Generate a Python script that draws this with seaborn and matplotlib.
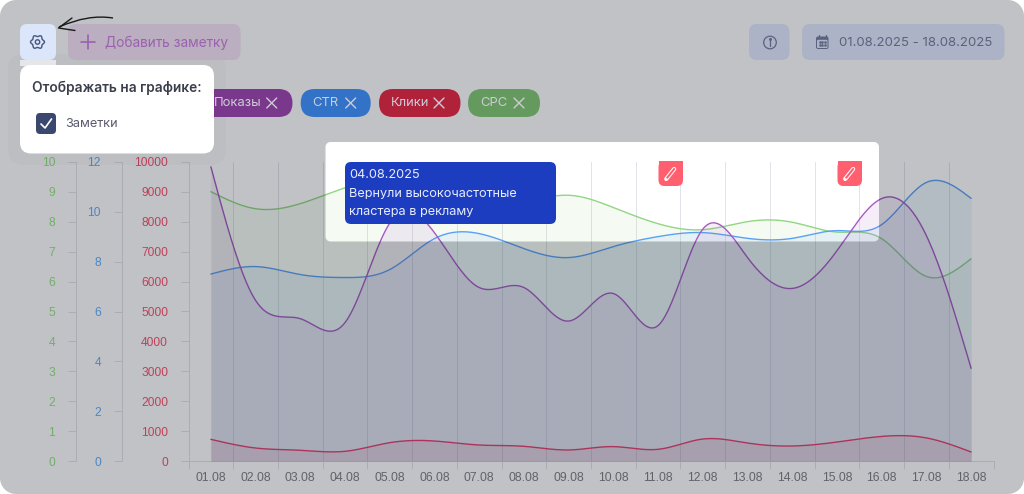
import numpy as np
import pandas as pd
import matplotlib
matplotlib.use('Agg')
import matplotlib.pyplot as plt
import seaborn as sns
from matplotlib.patches import FancyBboxPatch, PathPatch, Circle
from matplotlib.path import Path

# Значения по дням
days = ['01.08', '02.08', '03.08', '04.08', '05.08', '06.08', '07.08', '08.08', '09.08',
        '10.08', '11.08', '12.08', '13.08', '14.08', '15.08', '16.08', '17.08', '18.08']
pokazy = [9830, 5370, 4760, 4630, 7950, 7630, 5800, 5800, 4680,
          5600, 4530, 7750, 6800, 5770, 7030, 8770, 7530, 3100]
ctr = [7.5, 7.8, 7.48, 7.36, 7.68, 8.92, 9.12, 8.52, 8.16,
       8.6, 9.0, 9.16, 8.93, 8.93, 9.24, 9.48, 11.17, 10.53]
kliki = [733, 443, 367, 333, 622, 677, 543, 500, 378,
         490, 400, 743, 610, 510, 643, 830, 780, 310]
cpc = [9.0, 8.43, 8.6, 9.13, 9.4, 9.1, 8.8, 8.7, 8.88,
       8.47, 7.93, 7.73, 8.0, 7.98, 7.65, 7.43, 6.17, 6.76]

ticks_green = list(range(0, 11))
ticks_blue = list(range(0, 13, 2))
ticks_red = list(range(0, 10001, 1000))

GREEN = '#91D682'
BLUE = '#5AA0F5'
PURPLE = '#A55AC3'
RED = '#E43E6E'
GRID = '#E2E3E8'
PX = 0.72  # 1 px в пунктах при dpi=100
W, H = 1024, 494


def spline(values, n=20):
    # натуральный кубический сплайн через дневные значения
    y = np.array(values, dtype=float)
    k = len(y)
    A = np.zeros((k, k))
    b = np.zeros(k)
    A[0, 0] = A[-1, -1] = 1
    for i in range(1, k - 1):
        A[i, i - 1:i + 2] = [1, 4, 1]
        b[i] = 6 * (y[i - 1] - 2 * y[i] + y[i + 1])
    m = np.linalg.solve(A, b)
    xs = np.linspace(0, k - 1, (k - 1) * n + 1)
    i = np.minimum(xs.astype(int), k - 2)
    t = xs - i
    ys = ((1 - t) ** 3 * m[i] + t ** 3 * m[i + 1]) / 6 + (y[i] - m[i] / 6) * (1 - t) + (y[i + 1] - m[i + 1] / 6) * t
    return xs, ys


def draw_series(axis, values, color, fill=0.1):
    xs, ys = spline(values)
    axis.fill_between(xs, 0, ys, color=color, alpha=fill, lw=0)
    df = pd.DataFrame({'x': xs, 'y': ys})
    sns.lineplot(data=df, x='x', y='y', ax=axis, color=color, lw=1.0, estimator=None)
    axis.set_xlabel('')
    axis.set_ylabel('')


def round_verts(x0, y0, x1, y1, r):
    pts = []
    corners = [(x1 - r, y0 + r, -90), (x1 - r, y1 - r, 0), (x0 + r, y1 - r, 90), (x0 + r, y0 + r, 180)]
    for cx, cy, a in corners:
        t = np.radians(np.linspace(a, a + 90, 12))
        pts += list(zip(cx + r * np.cos(t), cy + r * np.sin(t)))
    return pts


def box(ui, x0, y0, x1, y1, r, color, z=3, alpha=None):
    ui.add_patch(FancyBboxPatch((x0 + r, y0 + r), x1 - x0 - 2 * r, y1 - y0 - 2 * r,
                                boxstyle='round,pad=%f,rounding_size=%f' % (r, r),
                                fc=color, ec='none', zorder=z, alpha=alpha))


def label(ui, x, y, s, size, color, z=5, ha='left', **kw):
    ui.text(x, y, s, fontsize=size * PX, color=color, ha=ha, va='center', zorder=z, family='Inter', **kw)


sns.set_theme(style='white')
plt.rcParams['font.family'] = ['Liberation Sans', 'DejaVu Sans']

fig = plt.figure(figsize=(W / 100, H / 100), dpi=100, facecolor='white')
# нижняя ось несёт сетку и красную шкалу, кривые лежат на осях поверх неё
ax = fig.add_axes([188.5 / W, 1 - 461.3 / H, 805 / W, 299.6 / H])
ax_blue = ax.twinx()
ax_green = ax.twinx()
ax_left = ax.twinx()
ax.set_facecolor('white')

draw_series(ax_green, cpc, GREEN, fill=0.09)
draw_series(ax_blue, ctr, BLUE)
draw_series(ax_left, pokazy, PURPLE)
draw_series(ax_left, kliki, RED)

ax.set_zorder(0)
ax_green.set_zorder(1)
ax_blue.set_zorder(2)
ax_left.set_zorder(3)

ax.set_xlim(-0.5, 17.5)
ax.set_ylim(0, 10000)
ax_left.set_ylim(0, 10000)
ax_blue.set_ylim(0, 12)
ax_green.set_ylim(0, 10)

# вертикальные линии между днями, подписи по центру дня
ax.set_xticks(np.arange(-0.5, 18, 1))
ax.set_xticklabels([])
ax.set_xticks(range(len(days)), labels=days, minor=True)
ax.tick_params(axis='x', which='major', length=8 * PX, width=PX, color=GRID, bottom=True)
ax.tick_params(axis='x', which='minor', length=0, pad=11 * PX, labelsize=12.2 * PX, labelcolor='#7D7E84')
ax.grid(True, axis='x', which='major', color=GRID, lw=PX)
ax.grid(False, axis='y')

for axis, ticks, color, offset in [(ax, ticks_red, '#FF4F6E', 0),
                                   (ax_blue, ticks_blue, '#63ADFF', 67),
                                   (ax_green, ticks_green, '#98E387', 112.8)]:
    axis.yaxis.set_ticks_position('left')
    axis.set_yticks(ticks)
    axis.tick_params(axis='y', left=True, right=False, labelleft=True, labelright=False,
                     length=8 * PX, width=PX, color=GRID, pad=12.5 * PX,
                     labelsize=12 * PX, labelcolor=color)
    for name, spine in axis.spines.items():
        spine.set_visible(name == 'left')
    axis.spines['left'].set_color(GRID)
    axis.spines['left'].set_linewidth(PX)
    axis.spines['left'].set_position(('outward', offset * PX))
ax.spines['bottom'].set_visible(True)
ax.spines['bottom'].set_color(GRID)
ax.spines['bottom'].set_linewidth(PX)
ax_left.axis('off')
ax_left.patch.set_visible(False)
ax_blue.patch.set_visible(False)
ax_green.patch.set_visible(False)

# слой интерфейса в пикселях картинки
ui = fig.add_axes([0, 0, 1, 1], zorder=10)
ui.set_xlim(0, W)
ui.set_ylim(H, 0)
ui.axis('off')

# затемнение с вырезом под блок заметок
outer = round_verts(0, 0, W, H, 16)
hole = round_verts(325.5, 142, 879, 241.5, 5)[::-1]
verts = outer + [outer[0]] + hole + [hole[0]]
codes = [Path.MOVETO] + [Path.LINETO] * (len(outer) - 1) + [Path.CLOSEPOLY] + \
        [Path.MOVETO] + [Path.LINETO] * (len(hole) - 1) + [Path.CLOSEPOLY]
ui.add_patch(PathPatch(Path(verts, codes), fc=(12 / 255, 22 / 255, 32 / 255), ec='none', alpha=0.26, zorder=1))

# верхние кнопки
box(ui, 68, 24, 240.5, 60, 8, '#BBAEC0')
ui.plot([81, 95], [42.5, 42.5], color='#9A62AE', lw=1.2, zorder=5)
ui.plot([88, 88], [35.5, 49.5], color='#9A62AE', lw=1.2, zorder=5)
label(ui, 105, 42.5, 'Добавить заметку', 13.7, '#9A62AE')

box(ui, 749, 24, 789.5, 60, 8, '#ACB3C7')
ui.add_patch(Circle((770, 42.5), 6.3, fc='none', ec='#5A627D', lw=0.9, zorder=5))
ui.plot([770, 770], [41.5, 46], color='#5A627D', lw=0.9, zorder=5)
ui.plot([770], [39], marker='o', ms=1.2, color='#5A627D', zorder=5)

box(ui, 802, 24, 1004.5, 60, 8, '#ACB3C7')
box(ui, 816, 36.5, 828.5, 49, 2, '#5A627D', z=4)
box(ui, 817, 39.8, 827.5, 48, 1, '#ACB3C7', z=4.5)
ui.plot([819, 819], [34.8, 37.5], color='#5A627D', lw=0.9, zorder=5)
ui.plot([825.5, 825.5], [34.8, 37.5], color='#5A627D', lw=0.9, zorder=5)
ui.plot([819.5, 822.2, 825, 819.5, 822.2, 825], [42, 42, 42, 45, 45, 45], ls='none', marker='s', ms=0.8, color='#5A627D', zorder=5)
label(ui, 839, 42.5, '01.08.2025 - 18.08.2025', 13.2, '#5A627D')

# метрики
for x0, x1, color, text, tx, cx in [(200, 292.5, '#7A388C', 'Показы', 213.5, 271.7),
                                    (300.7, 370.7, '#3273C8', 'CTR', 312, 350.7),
                                    (379, 460.5, '#B0213A', 'Клики', 391, 439),
                                    (468, 540, '#659A5E', 'CPC', 480.7, 519)]:
    box(ui, x0, 89, x1, 117, 14, color)
    label(ui, tx, 103, text, 13, '#CFCBD6')
    ui.plot([cx - 5, cx + 5], [98, 108], color='#CFCBD6', lw=1, zorder=5)
    ui.plot([cx - 5, cx + 5], [108, 98], color='#CFCBD6', lw=1, zorder=5)

# подсказка и метки заметок
box(ui, 345, 162, 556, 224, 6, '#1C3DC0')
label(ui, 349, 175, '04.08.2025', 12.8, '#E8ECFB')
label(ui, 349, 193.5, 'Вернули высокочастотные', 12.7, '#E8ECFB')
label(ui, 349, 212, 'кластера в рекламу', 12.7, '#E8ECFB')

for x0 in [658.5, 837.5]:
    box(ui, x0, 161, x0 + 24.5, 186, 6, '#FF5F6E')
    ui.add_patch(plt.Rectangle((x0, 161), 24.5, 8, fc='#FF5F6E', ec='none', zorder=3))
    cx = x0 + 12.2
    ui.plot([cx - 4.5, cx + 3.5], [179, 169], color='white', lw=3.0, solid_capstyle='round', zorder=5)
    ui.plot([cx - 3.5, cx + 3.5], [177.7, 169], color='#FF5F6E', lw=1.5, solid_capstyle='round', zorder=6)

# всплывающее окно настроек
box(ui, 8, 54, 226, 165, 16, '#000000', z=1.5, alpha=0.015)
box(ui, 20, 24, 56, 60, 7, '#DCE6FB', z=6)
ui.add_patch(plt.Rectangle((20, 60), 36, 6, fc='#E4E6EA', ec='none', zorder=6))
t = np.linspace(0, 2 * np.pi, 200)
r = 6.2 + 0.8 * np.cos(6 * t)
ui.plot(37.5 + r * np.cos(t), 42 + r * np.sin(t), color='#46557F', lw=1.0, zorder=7)
ui.add_patch(Circle((37.5, 42), 2.2, fc='none', ec='#46557F', lw=1.0, zorder=7))

box(ui, 20, 65, 214, 153.5, 11, 'white', z=6)
label(ui, 31.5, 87.5, 'Отображать на графике:', 13.75, '#3C3E4B', z=7, fontweight='semibold')
box(ui, 36, 113, 56, 134, 4, '#3A4870', z=7)
ui.plot([41, 45, 51.5], [124, 128, 119], color='white', lw=1.2, zorder=8)
label(ui, 65, 124, 'Заметки', 12.8, '#5A5A6E', z=7)

# стрелка от руки
arrow = Path([(113, 18), (88, 14), (59, 27)], [Path.MOVETO, Path.CURVE3, Path.CURVE3])
ui.add_patch(PathPatch(arrow, fc='none', ec='#1A1A1A', lw=1.0, zorder=8))
ui.plot([72, 58.5, 75], [18, 28, 30.5], color='#1A1A1A', lw=1.0, zorder=8)

plt.savefig('out.png', dpi=100, facecolor='white')
